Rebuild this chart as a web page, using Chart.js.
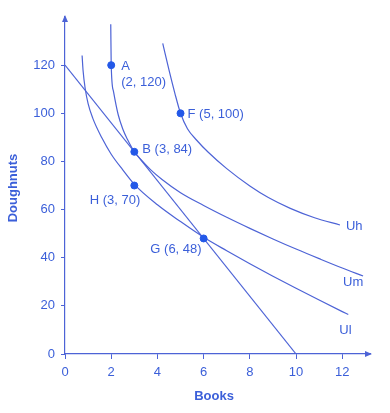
<!DOCTYPE html>
<html lang="en">
<head>
  <meta charset="UTF-8" />
  <title>Indifference curves</title>
  <script src="https://cdn.jsdelivr.net/npm/chart.js"></script>
  <style>
    body { margin: 0; background: #fff; }
    #wrap { width: 390px; height: 413px; }
  </style>
</head>
<body>
  <div id="wrap"><canvas id="chart" width="390" height="413"></canvas></div>

  <script>
    // values
    const xTicks = [0, 2, 4, 6, 8, 10, 12];
    const yTicks = [0, 20, 40, 60, 80, 100, 120];

    const budgetLine = [{x: 0, y: 120}, {x: 10, y: 0}];

    const uhCurve = [
      {x: 4.23, y: 129}, {x: 4.5, y: 118}, {x: 4.75, y: 108.5}, {x: 5, y: 100},
      {x: 5.3, y: 93.6}, {x: 5.7, y: 88.8}, {x: 6.2, y: 83.8}, {x: 7, y: 77},
      {x: 8, y: 69.8}, {x: 8.8, y: 65}, {x: 9.75, y: 60.5}, {x: 10.8, y: 56.6},
      {x: 11.9, y: 53.6}
    ];
    const umCurve = [
      {x: 1.98, y: 137}, {x: 2, y: 120}, {x: 2.1, y: 109}, {x: 2.3, y: 99.5},
      {x: 2.5, y: 93.5}, {x: 2.7, y: 89.2}, {x: 3, y: 84}, {x: 3.3, y: 80.6},
      {x: 3.7, y: 76.6}, {x: 4.2, y: 72.5}, {x: 5, y: 67}, {x: 6, y: 61.7},
      {x: 7, y: 56.8}, {x: 8, y: 52.2}, {x: 9, y: 47.8}, {x: 10, y: 43.6},
      {x: 11, y: 39.6}, {x: 12, y: 35.7}, {x: 12.9, y: 32.4}
    ];
    const ulCurve = [
      {x: 0.74, y: 124}, {x: 0.78, y: 118}, {x: 0.87, y: 110.5}, {x: 1, y: 104},
      {x: 1.2, y: 98}, {x: 1.6, y: 89.7}, {x: 2, y: 83}, {x: 2.5, y: 76.5},
      {x: 3, y: 70.5}, {x: 4, y: 62}, {x: 5, y: 55}, {x: 6, y: 48.5},
      {x: 7, y: 42.9}, {x: 8, y: 37.5}, {x: 9, y: 32.3}, {x: 10, y: 27.3},
      {x: 11, y: 22.4}, {x: 12, y: 17.6}, {x: 12.26, y: 16.4}
    ];

    const pointNames = ['A', 'F', 'B', 'H', 'G'];
    const pointX = [2, 5, 3, 3, 6];
    const pointY = [120, 100, 84, 70, 48];

    const curveNames = ['Uh', 'Um', 'Ul'];

    const lineColor = '#4d63d6';
    const dotColor = '#2358e8';
    const textColor = '#3b5fd9';

    const dots = pointX.map((x, i) => ({x: x, y: pointY[i]}));

    function curveSet(data) {
      return {
        type: 'line',
        data: data,
        borderColor: lineColor,
        borderWidth: 1.2,
        pointRadius: 0,
        cubicInterpolationMode: 'monotone',
        fill: false
      };
    }

    // labels, axis arrows and axis titles
    const decorations = {
      id: 'decorations',
      afterDatasetsDraw(chart) {
        const ctx = chart.ctx;
        const xs = chart.scales.x, ys = chart.scales.y;
        const area = chart.chartArea;
        ctx.save();

        // arrow heads
        ctx.fillStyle = lineColor;
        ctx.beginPath();
        ctx.moveTo(area.right + 2, area.bottom);
        ctx.lineTo(area.right - 5, area.bottom - 3);
        ctx.lineTo(area.right - 5, area.bottom + 3);
        ctx.closePath();
        ctx.fill();
        ctx.beginPath();
        ctx.moveTo(area.left, area.top - 2);
        ctx.lineTo(area.left - 3, area.top + 5);
        ctx.lineTo(area.left + 3, area.top + 5);
        ctx.closePath();
        ctx.fill();

        ctx.fillStyle = textColor;
        ctx.font = '13px Arial, "Liberation Sans", sans-serif';
        ctx.textBaseline = 'middle';
        ctx.textAlign = 'left';

        const px = i => xs.getPixelForValue(pointX[i]);
        const py = i => ys.getPixelForValue(pointY[i]);

        // A
        ctx.fillText(pointNames[0], px(0) + 10, py(0) + 1);
        ctx.fillText('(' + pointX[0] + ', ' + pointY[0] + ')', px(0) + 10, py(0) + 17);
        // F
        ctx.fillText(pointNames[1] + ' (' + pointX[1] + ', ' + pointY[1] + ')', px(1) + 7, py(1) + 1);
        // B
        ctx.fillText(pointNames[2] + ' (' + pointX[2] + ', ' + pointY[2] + ')', px(2) + 8, py(2) - 2);
        // H
        ctx.textAlign = 'right';
        ctx.fillText(pointNames[3] + ' (' + pointX[3] + ', ' + pointY[3] + ')', px(3) + 6, py(3) + 15);
        // G
        ctx.fillText(pointNames[4] + ' (' + pointX[4] + ', ' + pointY[4] + ')', px(4) - 2, py(4) + 11);

        // curve names, just past each curve's end
        ctx.textAlign = 'left';
        const ends = [uhCurve, umCurve, ulCurve].map(c => c[c.length - 1]);
        const offs = [[6, 1], [-20, 6], [-9, 16]];
        ends.forEach((p, i) => {
          ctx.fillText(curveNames[i], xs.getPixelForValue(p.x) + offs[i][0], ys.getPixelForValue(p.y) + offs[i][1]);
        });

        // axis titles
        ctx.font = 'bold 13px Arial, "Liberation Sans", sans-serif';
        ctx.textAlign = 'center';
        ctx.fillText('Books', 214, 396);
        ctx.translate(13, 188);
        ctx.rotate(-Math.PI / 2);
        ctx.fillText('Doughnuts', 0, 0);
        ctx.restore();
      }
    };

    new Chart(document.getElementById('chart'), {
      type: 'scatter',
      data: {
        datasets: [
          {
            data: dots,
            backgroundColor: dotColor,
            borderColor: dotColor,
            pointRadius: 3.5
          },
          Object.assign(curveSet(budgetLine), {cubicInterpolationMode: 'default', tension: 0}),
          curveSet(uhCurve),
          curveSet(umCurve),
          curveSet(ulCurve)
        ]
      },
      options: {
        responsive: false,
        animation: false,
        layout: { padding: { left: 0, top: 17, right: 20, bottom: 0 } },
        plugins: { legend: { display: false }, tooltip: { enabled: false } },
        scales: {
          x: {
            type: 'linear',
            min: 0,
            max: 13.2,
            afterFit(scale) { scale.height = 59; },
            afterBuildTicks(scale) { scale.ticks = xTicks.map(v => ({value: v})); },
            border: { display: true, color: lineColor, width: 1.2 },
            grid: { drawOnChartArea: false, color: lineColor, tickLength: 5 },
            ticks: { color: textColor, padding: 6, font: { size: 13, family: 'Arial, "Liberation Sans", sans-serif' } }
          },
          y: {
            type: 'linear',
            min: 0,
            max: 140,
            afterFit(scale) { scale.width = 65; },
            afterBuildTicks(scale) { scale.ticks = yTicks.map(v => ({value: v})); },
            border: { display: true, color: lineColor, width: 1.2 },
            grid: { drawOnChartArea: false, color: lineColor, tickLength: 4 },
            ticks: { color: textColor, padding: 6, font: { size: 13, family: 'Arial, "Liberation Sans", sans-serif' } }
          }
        }
      },
      plugins: [decorations]
    });
  </script>
</body>
</html>
